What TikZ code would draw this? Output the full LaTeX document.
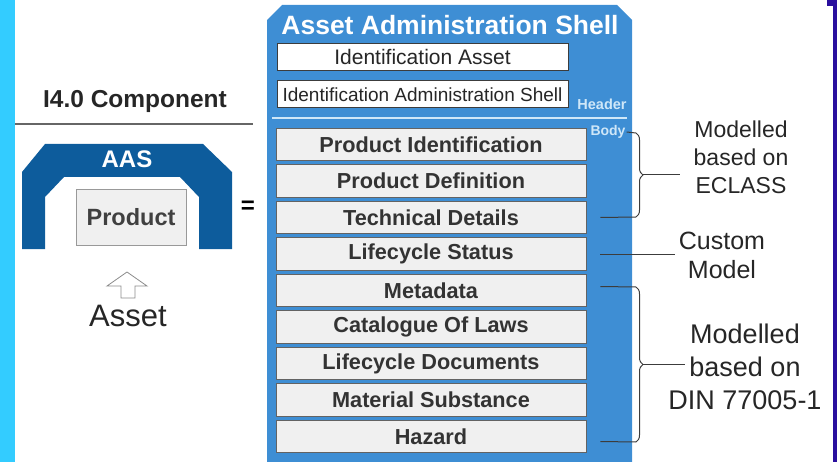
\documentclass[tikz,border=0pt]{standalone}
\usepackage{fontspec}
\setmainfont{Liberation Sans}
\usepackage{tikz}
\usetikzlibrary{positioning}
\usetikzlibrary{decorations.pathreplacing}
\definecolor{shellblue}{HTML}{3E8ED4}
\definecolor{archblue}{HTML}{0D5C9C}
\definecolor{stripcyan}{HTML}{33CCFF}
\definecolor{edgepurple}{HTML}{2A0F9E}
\definecolor{boxgray}{HTML}{F0F0F0}
\definecolor{labelblue}{HTML}{CFE7F8}
\definecolor{linkgray}{HTML}{3C3C3C}
\newcommand{\bodyboxcolor}[0]{boxgray}
\newcommand{\headboxcolor}[0]{white}

\begin{document}
\begin{tikzpicture}[x=1pt, y=-1pt,
    bodybox/.style={rectangle, draw=linkgray!80, fill=\bodyboxcolor, line width=0.8pt,
        minimum width=310pt, minimum height=32.5pt, inner sep=0pt,
        font=\fontsize{21.7}{24}\selectfont\bfseries, text=black!80},
    headbox/.style={rectangle, draw=linkgray, fill=\headboxcolor, line width=0.8pt,
        minimum width=291pt, minimum height=27pt, inner sep=0pt,
        font=\fontsize{19}{22}\selectfont, text=black!85},
    link/.style={draw=linkgray, line width=1pt}]
    \useasboundingbox (0,0) rectangle (837,462);
    % side strips
    \fill[stripcyan] (0,0) rectangle (15,462);
    \fill[edgepurple] (833,0) rectangle (837,462);
    \fill[edgepurple] (827,0) rectangle (837,6);

    % I4.0 component
    \node[font=\fontsize{24.5}{28}\selectfont\bfseries, text=black!85]
        (component) at (135,101) {I4.0 Component};
    \draw[draw=black!60, line width=1.2pt] (15,124) -- (253,124);
    \fill[archblue] (22,249) -- (22,172) -- (45,144) -- (203,144) -- (232,172) -- (232,249)
        -- (199,249) -- (199,197) -- (180,177) -- (64,177) -- (45,197) -- (45,249) -- cycle;
    \node[font=\fontsize{24}{28}\selectfont\bfseries, text=white]
        (aaslabel) at (127,159) {AAS};
    \node[rectangle, draw=black!40, fill=\bodyboxcolor, minimum width=110pt, minimum height=56pt,
        font=\fontsize{23.5}{26}\selectfont\bfseries, text=black!75]
        (product) at (131,217) {Product};
    \node[font=\fontsize{24}{26}\selectfont\bfseries] (equals) at (248,207) {=};
    \draw[draw=black!45, fill=white, line width=0.8pt, line join=miter]
        (127,272) -- (147,286) -- (135,286) -- (135,298) -- (121,298) -- (121,286) -- (107,286) -- cycle;
    \node[font=\fontsize{31}{34}\selectfont, text=black!85] (asset) at (128,316) {Asset};

    % asset administration shell
    \fill[shellblue] (267,462) -- (267,20) -- (282,5) -- (617,5) -- (632,20) -- (632,462) -- cycle;
    \node[font=\fontsize{26.5}{28}\selectfont\bfseries, text=white]
        (shelltitle) at (450,25) {Asset Administration Shell};
    \node[headbox, font=\fontsize{21}{24}\selectfont] (idasset) at (422.5,57) {Identification Asset};
    \node[headbox, below=9.5pt of idasset] (idshell) {Identification Administration Shell};
    \node[font=\fontsize{14.5}{16}\selectfont\bfseries, text=labelblue]
        (headerlabel) at (602,104) {Header};
    \draw[draw=labelblue, line width=2pt] (272,118) -- (627,118);
    \node[font=\fontsize{14}{16}\selectfont\bfseries, text=labelblue, inner sep=1pt]
        (bodylabel) at (608,132) {Body};

    \node[bodybox] (prodident) at (431,144.5) {Product Identification};
    \node[bodybox, below=3.2pt of prodident] (proddef) {Product Definition};
    \node[bodybox, below=3.2pt of proddef] (technical) {Technical Details};
    \node[bodybox, below=3.2pt of technical] (lifestatus) {Lifecycle Status};
    \node[bodybox, below=3.2pt of lifestatus] (metadata) {Metadata};
    \node[bodybox, below=3.2pt of metadata] (laws) {Catalogue Of Laws};
    \node[bodybox, below=3.2pt of laws] (lifedocs) {Lifecycle Documents};
    \node[bodybox, below=3.2pt of lifedocs] (substance) {Material Substance};
    \node[bodybox, below=3.2pt of substance] (hazard) {Hazard};

    % modelling notes
    \node[align=center, font=\fontsize{23}{28}\selectfont, text=black!85]
        (eclass) at (741,157) {Modelled\\based on\\ECLASS};
    \node[align=center, font=\fontsize{25}{29}\selectfont, text=black!85]
        (custom) at (722,255) {Custom\\Model};
    \node[align=center, font=\fontsize{27}{33}\selectfont, text=black!85]
        (din) at (745,367) {Modelled\\based on\\DIN 77005-1};

    \coordinate (ecltop) at (636,133);
    \coordinate (eclbot) at (636,217);
    \coordinate (eclend) at (680,175);
    \draw[link] (bodylabel.east) -- (ecltop);
    \draw[link] ([xshift=14pt]technical.east) -- (eclbot);
    \draw[link, decorate, decoration={brace, amplitude=7pt}] (ecltop) -- (eclbot);
    \draw[link] (643,175) -- (eclend);

    \draw[link] ([xshift=14pt]lifestatus.east) -- (custom.west |- lifestatus.east);

    \coordinate (dintop) at (636,287);
    \coordinate (dinbot) at (636,442);
    \coordinate (dinend) at (685,364.5);
    \draw[link] ([xshift=14pt, yshift=4pt]metadata.east) -- (dintop);
    \draw[link] ([xshift=14pt, yshift=-5pt]hazard.east) -- (dinbot);
    \draw[link, decorate, decoration={brace, amplitude=7pt}] (dintop) -- (dinbot);
    \draw[link] (643,364.5) -- (dinend);
\end{tikzpicture}
\end{document}
